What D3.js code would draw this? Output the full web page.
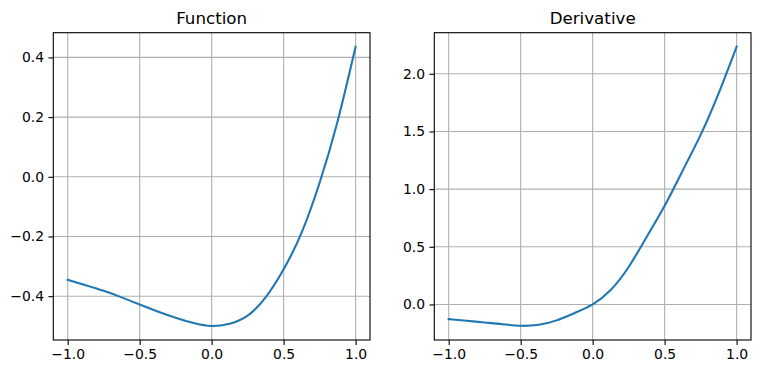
<!DOCTYPE html>
<html>
<head>
<meta charset="utf-8">
<script src="https://cdn.jsdelivr.net/npm/d3@7"></script>
<style>
  html, body { margin: 0; padding: 0; background: #fff; }
  svg { display: block; }
  text { font-family: "DejaVu Sans", sans-serif; fill: #000; }
</style>
</head>
<body>
<svg id="chart" width="760" height="374"></svg>
<script>
// ---- data ----
const xValues = [-1, -0.875, -0.75, -0.625, -0.5, -0.375, -0.25, -0.125, 0, 0.125, 0.25, 0.375, 0.5, 0.625, 0.75, 0.875, 1];
const functionValues = [-0.345, -0.363, -0.382, -0.404, -0.428, -0.451, -0.472, -0.49, -0.5, -0.492, -0.465, -0.404, -0.31, -0.187, -0.02, 0.186, 0.436];
const derivativeValues = [-0.127, -0.141, -0.156, -0.171, -0.185, -0.176, -0.138, -0.074, 0, 0.125, 0.325, 0.585, 0.855, 1.16, 1.47, 1.83, 2.235];
const titles = ["Function", "Derivative"];
const xTicks = [-1, -0.5, 0, 0.5, 1];
const yTicksFunction = [-0.4, -0.2, 0, 0.2, 0.4];
const yTicksDerivative = [0, 0.5, 1, 1.5, 2];

const svg = d3.select("#chart");
const fmt = v => d3.format(".1f")(v).replace("-", "\u2212");

const panels = [
  { title: titles[0], ys: functionValues, yTicks: yTicksFunction, left: 53.3, right: 370 },
  { title: titles[1], ys: derivativeValues, yTicks: yTicksDerivative, left: 434.3, right: 751 }
];
const plotTop = 32.7, plotBottom = 340;

function padded(ext) {
  const r = ext[1] - ext[0];
  return [ext[0] - 0.05 * r, ext[1] + 0.05 * r];
}

panels.forEach(p => {
  const data = xValues.map((x, i) => ({ x, y: p.ys[i] }));
  const x = d3.scaleLinear().domain(padded(d3.extent(xValues))).range([p.left, p.right]);
  const yExt = d3.extent(p.ys);
  if (p.title === "Derivative") yExt[0] = -0.187; // visible minimum between samples
  const y = d3.scaleLinear().domain(padded(yExt)).range([plotBottom, plotTop]);
  const g = svg.append("g");

  // grid
  g.append("g").selectAll("line").data(xTicks).join("line")
    .attr("x1", d => x(d)).attr("x2", d => x(d))
    .attr("y1", plotTop).attr("y2", plotBottom)
    .attr("stroke", "#b0b0b0").attr("stroke-width", 1.1);
  g.append("g").selectAll("line").data(p.yTicks).join("line")
    .attr("y1", d => y(d)).attr("y2", d => y(d))
    .attr("x1", p.left).attr("x2", p.right)
    .attr("stroke", "#b0b0b0").attr("stroke-width", 1.1);

  // line
  const line = d3.line().x(d => x(d.x)).y(d => y(d.y)).curve(d3.curveNatural);
  g.append("path").datum(data)
    .attr("fill", "none").attr("stroke", "#1f77b4").attr("stroke-width", 2.1)
    .attr("stroke-linecap", "square")
    .attr("d", line);

  // axes
  const xAxis = d3.axisBottom(x).tickValues(xTicks).tickFormat(fmt).tickSizeOuter(0).tickSize(4.9).tickPadding(4.4);
  const yAxis = d3.axisLeft(y).tickValues(p.yTicks).tickFormat(fmt).tickSizeOuter(0).tickSize(4.9).tickPadding(4.4);
  const gx = g.append("g").attr("transform", `translate(0,${plotBottom})`).call(xAxis);
  const gy = g.append("g").attr("transform", `translate(${p.left},0)`).call(yAxis);
  [gx, gy].forEach(a => {
    a.select(".domain").remove();
    a.selectAll(".tick line").attr("stroke", "#000").attr("stroke-width", 1.1);
    a.selectAll(".tick text").attr("font-size", "13.9px").attr("font-family", "DejaVu Sans").attr("fill", "#000");
  });

  // frame
  g.append("rect")
    .attr("x", p.left).attr("y", plotTop)
    .attr("width", p.right - p.left).attr("height", plotBottom - plotTop)
    .attr("fill", "none").attr("stroke", "#000").attr("stroke-width", 1.1);

  // title
  g.append("text")
    .attr("x", (p.left + p.right) / 2).attr("y", plotTop - 8.6)
    .attr("text-anchor", "middle").attr("font-size", "16.7px")
    .text(p.title);
});
</script>
</body>
</html>
